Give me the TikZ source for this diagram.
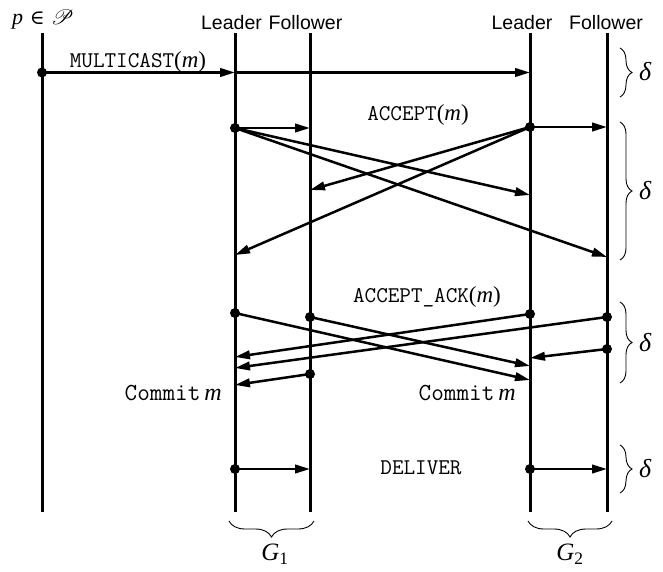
\documentclass[tikz,border=0pt]{standalone}
\usepackage{mathrsfs}
\usepackage{fontspec}
\newfontfamily\hv{Liberation Sans}
\newfontfamily\cou{Latin Modern Mono}
\newfontfamily\tms{Liberation Serif}
\newfontfamily\djs{DejaVu Serif}
\usetikzlibrary{arrows.meta,decorations.pathreplacing}
\tikzset{
 life/.style={line width=3pt},
 msg/.style={line width=2.5pt,-{Triangle[length=15pt,width=8.5pt]}},
 dotc/.style={fill=black},
 hdr/.style={font=\hv\fontsize{19.5}{22}\selectfont, anchor=base, inner sep=0pt},
 lbl/.style={font=\cou\fontsize{22.5}{24}\selectfont, anchor=base, inner sep=0pt},
 cmt/.style={font=\cou\fontsize{24.5}{26}\selectfont, anchor=base east, inner sep=0pt},
 brc/.style={decorate, decoration={brace, amplitude=12pt}, line width=0.9pt},
 bbrc/.style={decorate, decoration={brace, amplitude=16pt}, line width=0.9pt},
 dlt/.style={font=\tms\itshape\fontsize{26}{28}\selectfont, anchor=west, inner sep=0pt},
 glbl/.style={font=\tms\fontsize{25}{27}\selectfont, inner sep=0pt},
}
\newcommand\mpar{{\fontsize{23}{25}\selectfont\tms(\textit{m})}}
\begin{document}
\begin{tikzpicture}[x=1pt,y=-1pt]
\useasboundingbox (0,0) rectangle (663,572);
% lifelines
\foreach \n/\x in {P/42,La/235,Fa/310,Lb/530,Fb/607} {
  \coordinate (\n t) at (\x,33);
  \coordinate (\n b) at (\x,512);
  \draw[life] (\n t) -- (\n b);
}
% headers
\node[anchor=base, inner sep=0pt, font=\fontsize{22}{24}\selectfont] (hp) at (43,25) {{\tms\textit{p}} {\djs\fontsize{20}{22}\selectfont ∈} $\mathscr{P}$};
\node[hdr] (hla) at (231.5,30) {Leader};
\node[hdr] (hfa) at (305.5,30) {Follower};
\node[hdr] (hlb) at (522,30) {Leader};
\node[hdr] (hfb) at (606,30) {Follower};
% multicast
\coordinate (m0) at (42,72.5);
\coordinate (m1) at (235,72.5);
\coordinate (m2) at (530,72.5);
\fill[dotc] (m0) circle (5pt);
\draw[msg] (m0) -- (m1);
\draw[msg] (m1) -- (m2);
\node[lbl] (tmc) at (138,68) {MULTICAST\mpar};
% accept
\coordinate (a1) at (235,128);
\coordinate (a2) at (530,127);
\coordinate (a1f) at (310,128);
\coordinate (a1l) at (530,195);
\coordinate (a1g) at (607,257);
\coordinate (a2f) at (607,127);
\coordinate (a2g) at (310,190);
\coordinate (a2l) at (235,255);
\fill[dotc] (a1) circle (5pt);
\fill[dotc] (a2) circle (5pt);
\draw[msg] (a1) -- (a1f);
\draw[msg] (a1) -- (a1l);
\draw[msg] (a1) -- (a1g);
\draw[msg] (a2) -- (a2f);
\draw[msg] (a2) -- (a2g);
\draw[msg] (a2) -- (a2l);
\node[lbl] (tac) at (418,121) {ACCEPT\mpar};
% accept_ack
\coordinate (k1) at (235,313);
\coordinate (k2) at (310,317);
\coordinate (k3) at (530,314);
\coordinate (k4) at (607,317);
\coordinate (k5) at (607,349);
\coordinate (k6) at (310,374);
\coordinate (e1) at (530,380);
\coordinate (e2) at (530,366);
\coordinate (e3) at (235,357);
\coordinate (e4) at (235,368);
\coordinate (e5) at (530,358);
\coordinate (e6) at (235,385);
\foreach \k in {k1,k2,k3,k4,k5,k6} {\fill[dotc] (\k) circle (5pt);}
\draw[msg] (k1) -- (e1);
\draw[msg] (k2) -- (e2);
\draw[msg] (k3) -- (e3);
\draw[msg] (k4) -- (e4);
\draw[msg] (k5) -- (e5);
\draw[msg] (k6) -- (e6);
\node[lbl] (tak) at (427,302) {ACCEPT\_ACK\mpar};
\node[cmt] (c1) at (222,400) {Commit\,{\tms\fontsize{24}{26}\selectfont\textit{m}}};
\node[cmt] (c2) at (516,400) {Commit\,{\tms\fontsize{24}{26}\selectfont\textit{m}}};
% deliver
\coordinate (d1) at (235,469);
\coordinate (d2) at (530,469);
\coordinate (d1f) at (310,469);
\coordinate (d2f) at (607,469);
\fill[dotc] (d1) circle (5pt);
\fill[dotc] (d2) circle (5pt);
\draw[msg] (d1) -- (d1f);
\draw[msg] (d2) -- (d2f);
\node[lbl] (tdl) at (421,474) {DELIVER};
% right braces
\coordinate (b1t) at (620,48);  \coordinate (b1b) at (620,97);
\coordinate (b2t) at (620,122); \coordinate (b2b) at (620,260);
\coordinate (b3t) at (620,302); \coordinate (b3b) at (620,383);
\coordinate (b4t) at (620,445); \coordinate (b4b) at (620,493);
\draw[brc] (b1t) -- (b1b);
\draw[brc] (b2t) -- (b2b);
\draw[brc] (b3t) -- (b3b);
\draw[brc] (b4t) -- (b4b);
\node[dlt] (dl1) at (639,72) {δ};
\node[dlt] (dl2) at (639,191) {δ};
\node[dlt] (dl3) at (639,343) {δ};
\node[dlt] (dl4) at (639,469) {δ};
% bottom braces
\coordinate (g1r) at (314,521); \coordinate (g1l) at (229,521);
\coordinate (g2r) at (612,521); \coordinate (g2l) at (528,521);
\draw[bbrc] (g1r) -- (g1l);
\draw[bbrc] (g2r) -- (g2l);
\node[glbl] (G1) at (275,554) {\textit{G}\textsubscript{1}};
\node[glbl] (G2) at (570,554) {\textit{G}\textsubscript{2}};
\end{tikzpicture}
\end{document}
